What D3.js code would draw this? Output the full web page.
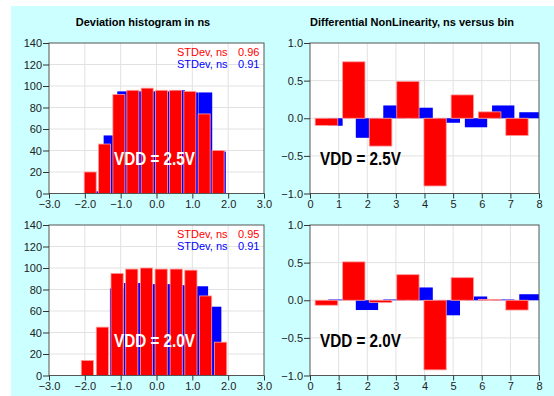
<!DOCTYPE html>
<html>
<head>
<meta charset="utf-8">
<title>Deviation histogram and DNL</title>
<script src="https://cdn.jsdelivr.net/npm/d3@7"></script>
<style>
  body { margin: 0; background: #fff; }
  text { font-family: Arial, "Liberation Sans", sans-serif; }
</style>
</head>
<body>
<script>
// ---- data ----
// deviation histograms: bin centre (ns) and counts
var hist25RedX  = [-1.85, -1.45, -1.05, -0.66, -0.26, 0.14, 0.53, 0.93, 1.33, 1.72];
var hist25Red   = [20, 46, 92, 96, 98, 96, 96, 95, 74, 40];
var hist25BlueX = [-1.67, -1.29, -0.91, -0.53, -0.15, 0.23, 0.61, 0.99, 1.37, 1.75];
var hist25Blue  = [2, 54, 95, 95, 95, 95, 96, 94, 94, 39];

var hist20RedX  = [-1.93, -1.51, -1.10, -0.69, -0.28, 0.13, 0.55, 0.96, 1.37, 1.79];
var hist20Red   = [14, 45, 95, 99, 100, 99, 99, 98, 74, 31];
var hist20BlueX = [-1.11, -0.72, -0.33, 0.06, 0.45, 0.84, 1.25, 1.62];
var hist20Blue  = [81, 86, 86, 85, 85, 84, 83, 64];

// differential non linearity per bin (bin start / end on the x axis)
var dnlRedX0  = [0.18, 1.14, 2.07, 3.03, 3.98, 4.93, 5.88, 6.84];
var dnlRedX1  = [0.97, 1.92, 2.86, 3.81, 4.76, 5.71, 6.67, 7.62];
var dnlBlueX0 = [0.64, 1.60, 2.56, 3.51, 4.46, 5.41, 6.36, 7.31];
var dnlBlueX1 = [1.14, 2.38, 3.34, 4.29, 5.24, 6.19, 7.14, 8.09];
var dnl25Red  = [-0.095, 0.75, -0.37, 0.49, -0.90, 0.31, 0.085, -0.23];
var dnl25Blue = [-0.10, -0.26, 0.17, 0.14, -0.06, -0.12, 0.17, 0.08];
var dnl20Red  = [-0.066, 0.51, -0.03, 0.34, -0.925, 0.30, 0.012, -0.13];
var dnl20Blue = [0.01, -0.13, 0.01, 0.17, -0.20, 0.05, 0.01, 0.08];

var stdevRed = ["0.96", "0.95"],
	stdevBlue = ["0.91", "0.91"],
	vddLabels = ["VDD = 2.5V", "VDD = 2.0V"];

var histTicksX = [-3, -2, -1, 0, 1, 2, 3],
	histTicksY = [0, 20, 40, 60, 80, 100, 120, 140],
	dnlTicksX = [0, 1, 2, 3, 4, 5, 6, 7, 8],
	dnlTicksY = [-1, -0.5, 0, 0.5, 1];

// ---- layout ----
var svg = d3.select("body").append("svg")
	.attr("width", 554)
	.attr("height", 396);

svg.append("rect")
	.attr("x", 11).attr("y", 6)
	.attr("width", 543).attr("height", 390)
	.attr("fill", "#ccffff");

svg.append("text").attr("x", 143).attr("y", 26)
	.attr("text-anchor", "middle").attr("font-size", 11).attr("font-weight", "bold")
	.text("Deviation histogram in ns");
svg.append("text").attr("x", 412).attr("y", 26)
	.attr("text-anchor", "middle").attr("font-size", 11).attr("font-weight", "bold")
	.text("Differential NonLinearity, ns versus bin");

var rows = [{top: 43, bottom: 193.5}, {top: 225, bottom: 375.5}];

// bars given as [x0, x1, value]
function centred(xs, vals, w) {
	return vals.map(function(v, i) { return [xs[i] - w / 2, xs[i] + w / 2, v]; });
}
function spans(x0, x1, vals) {
	return vals.map(function(v, i) { return [x0[i], x1[i], v]; });
}

function panel(opt) {
	var x = d3.scaleLinear().domain(opt.xDomain).range([opt.left, opt.right]),
		y = d3.scaleLinear().domain(opt.yDomain).range([opt.bottom, opt.top]);

	svg.append("clipPath").attr("id", opt.id)
		.append("rect")
		.attr("x", opt.left).attr("y", opt.top)
		.attr("width", opt.right - opt.left).attr("height", opt.bottom - opt.top);

	svg.append("rect")
		.attr("x", opt.left).attr("y", opt.top)
		.attr("width", opt.right - opt.left).attr("height", opt.bottom - opt.top)
		.attr("fill", "#fff");

	// grid
	var grid = svg.append("g").attr("stroke", "#e2e2e2").attr("stroke-width", 1);
	grid.selectAll(".gx").data(opt.xTicks.slice(1, -1)).enter().append("line")
		.attr("x1", function(d) { return x(d); }).attr("x2", function(d) { return x(d); })
		.attr("y1", opt.top).attr("y2", opt.bottom);
	grid.selectAll(".gy").data(opt.yTicks.slice(1, -1)).enter().append("line")
		.attr("y1", function(d) { return y(d); }).attr("y2", function(d) { return y(d); })
		.attr("x1", opt.left).attr("x2", opt.right);

	// bars, blue behind red
	function bars(data, fill, stroke) {
		svg.append("g")
			.attr("clip-path", "url(#" + opt.id + ")")
			.selectAll("rect")
			.data(data)
			.enter().append("rect")
			.attr("x", function(d) { return x(d[0]); })
			.attr("width", function(d) { return x(d[1]) - x(d[0]); })
			.attr("y", function(d) { return y(Math.max(0, d[2])); })
			.attr("height", function(d) { return Math.abs(y(d[2]) - y(0)); })
			.attr("fill", fill)
			.attr("stroke", stroke)
			.attr("stroke-width", stroke == "none" ? 0 : 0.8);
	}
	bars(opt.blue, "#0000ff", "none");
	bars(opt.red, "#ff0000", "#ff9a9a");

	// frame
	svg.append("rect")
		.attr("x", opt.left).attr("y", opt.top)
		.attr("width", opt.right - opt.left).attr("height", opt.bottom - opt.top)
		.attr("fill", "none").attr("stroke", "#555").attr("stroke-width", 1);

	// axes with minor ticks
	var ax = svg.append("g").attr("transform", "translate(0," + opt.bottom + ")");
	ax.call(d3.axisBottom(x).tickValues(opt.xMinor).tickSize(3).tickFormat(""));
	ax.call(d3.axisBottom(x).tickValues(opt.xTicks).tickSize(5).tickPadding(2).tickFormat(opt.xFormat));
	var ay = svg.append("g").attr("transform", "translate(" + opt.left + ",0)");
	ay.call(d3.axisLeft(y).tickValues(opt.yMinor).tickSize(3).tickFormat(""));
	ay.call(d3.axisLeft(y).tickValues(opt.yTicks).tickSize(6).tickPadding(1).tickFormat(opt.yFormat));
	svg.selectAll(".domain").remove();
	svg.selectAll(".tick line").attr("stroke", "#333");
	svg.selectAll(".tick text").attr("font-size", 11).attr("fill", "#222")
		.attr("font-family", "Arial, 'Liberation Sans', sans-serif");

	// VDD label
	svg.append("text")
		.attr("x", opt.labelX).attr("y", opt.bottom - 29)
		.attr("font-size", 18).attr("font-weight", "bold")
		.attr("textLength", 81).attr("lengthAdjust", "spacingAndGlyphs")
		.attr("fill", opt.labelFill)
		.text(opt.label);
}

rows.forEach(function(r, k) {
	panel({
		id: "hist" + k, left: 49, right: 264, top: r.top, bottom: r.bottom,
		xDomain: [-3, 3], yDomain: [0, 140],
		xTicks: histTicksX, yTicks: histTicksY,
		xMinor: d3.range(-3, 3.01, 0.2), yMinor: d3.range(0, 141, 4),
		xFormat: d3.format(".1f"), yFormat: d3.format("d"),
		red: k == 0 ? centred(hist25RedX, hist25Red, 0.335) : centred(hist20RedX, hist20Red, 0.34),
		blue: k == 0 ? centred(hist25BlueX, hist25Blue, 0.37) : centred(hist20BlueX, hist20Blue, 0.38),
		label: vddLabels[k], labelX: 114, labelFill: "#fff"
	});

	// stdev legend
	var lg = svg.append("g").attr("font-size", 11);
	lg.append("text").attr("x", 177).attr("y", r.top + 12.5).attr("fill", "#ff0000").text("STDev, ns");
	lg.append("text").attr("x", 259.5).attr("y", r.top + 12.5).attr("fill", "#ff0000")
		.attr("text-anchor", "end").text(stdevRed[k]);
	lg.append("text").attr("x", 177).attr("y", r.top + 25).attr("fill", "#0000ff").text("STDev, ns");
	lg.append("text").attr("x", 259.5).attr("y", r.top + 25).attr("fill", "#0000ff")
		.attr("text-anchor", "end").text(stdevBlue[k]);

	panel({
		id: "dnl" + k, left: 310, right: 539, top: r.top, bottom: r.bottom,
		xDomain: [0, 8], yDomain: [-1, 1],
		xTicks: dnlTicksX, yTicks: dnlTicksY,
		xMinor: d3.range(0, 8.01, 0.2), yMinor: d3.range(-1, 1.001, 0.05),
		xFormat: d3.format("d"), yFormat: d3.format(".1f"),
		red: spans(dnlRedX0, dnlRedX1, k == 0 ? dnl25Red : dnl20Red),
		blue: spans(dnlBlueX0, dnlBlueX1, k == 0 ? dnl25Blue : dnl20Blue),
		label: vddLabels[k], labelX: 320, labelFill: "#000"
	});
});
</script>
</body>
</html>
